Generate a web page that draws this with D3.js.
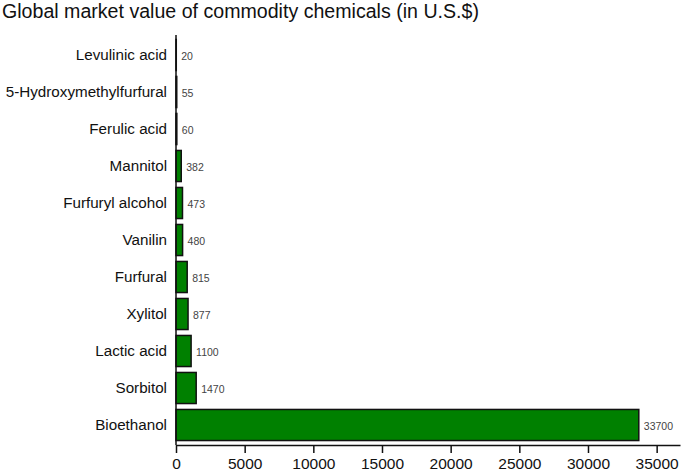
<!DOCTYPE html>
<html>
<head>
<meta charset="utf-8">
<script src="https://cdn.jsdelivr.net/npm/d3@7"></script>
<style>
  html, body { margin: 0; padding: 0; background: #fff; }
  svg { display: block; font-family: Arial, "Liberation Sans", sans-serif; }
</style>
</head>
<body>
<svg id="chart" width="685" height="472"></svg>
<script>
const title = "Global market value of commodity chemicals (in U.S.$)";
const categories = ["Levulinic acid", "5-Hydroxymethylfurfural", "Ferulic acid", "Mannitol",
  "Furfuryl alcohol", "Vanilin", "Furfural", "Xylitol", "Lactic acid", "Sorbitol", "Bioethanol"];
const values = [20, 55, 60, 382, 473, 480, 815, 877, 1100, 1470, 33700];
const xTicks = [0, 5000, 10000, 15000, 20000, 25000, 30000, 35000];
const xMax = 36700;

const svg = d3.select("#chart");

const x = d3.scaleLinear().domain([0, xMax]).range([176, 680]);
const y = d3.scaleBand().domain(categories).range([36.5, 443.5]).paddingInner(0.16).paddingOuter(0.08);

svg.append("text")
  .attr("x", 2).attr("y", 18)
  .attr("font-size", 19.6).attr("fill", "#111")
  .text(title);

// bars
svg.append("g").selectAll("rect")
  .data(categories)
  .join("rect")
  .attr("x", x(0))
  .attr("y", d => y(d))
  .attr("width", (d, i) => x(values[i]) - x(0))
  .attr("height", y.bandwidth())
  .attr("fill", "#008000")
  .attr("stroke", "#111")
  .attr("stroke-width", 1.5);

// value labels
svg.append("g").selectAll("text")
  .data(categories)
  .join("text")
  .attr("x", (d, i) => x(values[i]) + 5)
  .attr("y", d => y(d) + y.bandwidth() / 2 + 5)
  .attr("font-size", 10.5)
  .attr("fill", "#444")
  .text((d, i) => values[i]);

// category labels
svg.append("g").selectAll("text")
  .data(categories)
  .join("text")
  .attr("x", 167)
  .attr("y", d => y(d) + y.bandwidth() / 2 + 5)
  .attr("text-anchor", "end")
  .attr("font-size", 15.2)
  .attr("fill", "#111")
  .text(d => d);

// y axis line
svg.append("line")
  .attr("x1", x(0)).attr("x2", x(0))
  .attr("y1", 35).attr("y2", 445)
  .attr("stroke", "#111").attr("stroke-width", 1.5);

// x axis
const xAxis = d3.axisBottom(x).tickValues(xTicks).tickSize(8).tickSizeOuter(0).tickFormat(d3.format("d"));
const gx = svg.append("g").attr("transform", "translate(0,445)").call(xAxis);
gx.select(".domain").attr("stroke", "#111").attr("stroke-width", 1.5);
gx.selectAll(".tick line").attr("stroke", "#111").attr("stroke-width", 1.5);
gx.selectAll(".tick text")
  .attr("font-size", 15.5)
  .attr("font-family", "Arial, 'Liberation Sans', sans-serif")
  .attr("fill", "#111")
  .attr("dy", "0.71em")
  .attr("y", 13);
</script>
</body>
</html>
